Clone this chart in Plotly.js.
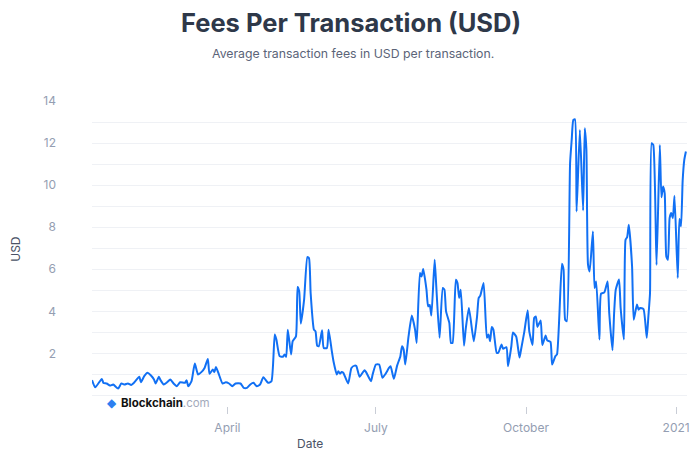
<!DOCTYPE html>
<html>
<head>
<meta charset="utf-8">
<script src="https://cdn.plot.ly/plotly-3.0.1.min.js"></script>
<style>html,body{margin:0;padding:0;background:#fff;}#chart{width:700px;height:456px;}</style>
</head>
<body>
<div id="chart"></div>
<script>
const dates = [
"2020-01-09","2020-01-11","2020-01-15","2020-01-16","2020-01-18","2020-01-20","2020-01-22","2020-01-25","2020-01-27","2020-01-29","2020-01-31",
"2020-02-02","2020-02-04","2020-02-07","2020-02-08","2020-02-10","2020-02-12","2020-02-14","2020-02-16","2020-02-17","2020-02-19","2020-02-20","2020-02-22","2020-02-24","2020-02-26","2020-02-28",
"2020-03-01","2020-03-03","2020-03-06","2020-03-07","2020-03-08","2020-03-10","2020-03-12","2020-03-14","2020-03-16","2020-03-18","2020-03-20","2020-03-21","2020-03-23","2020-03-24","2020-03-25","2020-03-27","2020-03-29","2020-03-31",
"2020-04-02","2020-04-04","2020-04-06","2020-04-09","2020-04-11","2020-04-13","2020-04-15","2020-04-17","2020-04-19","2020-04-21","2020-04-23","2020-04-25","2020-04-26","2020-04-28","2020-04-30",
"2020-05-01","2020-05-03","2020-05-05","2020-05-06","2020-05-07","2020-05-08","2020-05-10","2020-05-11","2020-05-13","2020-05-14","2020-05-15","2020-05-16","2020-05-18","2020-05-20","2020-05-21","2020-05-22","2020-05-24","2020-05-25","2020-05-26","2020-05-27","2020-05-29","2020-05-30",
"2020-06-01","2020-06-02","2020-06-04","2020-06-05","2020-06-07","2020-06-08","2020-06-09","2020-06-10","2020-06-11","2020-06-14","2020-06-16","2020-06-18","2020-06-19","2020-06-21","2020-06-24","2020-06-25","2020-06-28","2020-06-29",
"2020-07-01","2020-07-03","2020-07-05","2020-07-07","2020-07-09","2020-07-10","2020-07-12","2020-07-14","2020-07-16","2020-07-17","2020-07-18","2020-07-19","2020-07-21","2020-07-23","2020-07-25","2020-07-26","2020-07-28","2020-07-29","2020-07-30",
"2020-08-01","2020-08-02","2020-08-03","2020-08-04","2020-08-06","2020-08-07","2020-08-09","2020-08-11","2020-08-12","2020-08-13","2020-08-15","2020-08-16","2020-08-17","2020-08-19","2020-08-20","2020-08-21","2020-08-22","2020-08-24","2020-08-25","2020-08-27","2020-08-30",
"2020-09-01","2020-09-02","2020-09-03","2020-09-05","2020-09-07","2020-09-08","2020-09-09","2020-09-10","2020-09-11","2020-09-13","2020-09-14","2020-09-16","2020-09-17","2020-09-19","2020-09-20","2020-09-22","2020-09-23","2020-09-25","2020-09-27","2020-09-28","2020-09-30",
"2020-10-02","2020-10-03","2020-10-05","2020-10-06","2020-10-07","2020-10-08","2020-10-10","2020-10-11","2020-10-13","2020-10-14","2020-10-16","2020-10-17","2020-10-19","2020-10-20","2020-10-23","2020-10-24","2020-10-25","2020-10-26","2020-10-28","2020-10-29","2020-10-30","2020-10-31",
"2020-11-01","2020-11-03","2020-11-05","2020-11-06","2020-11-07","2020-11-08","2020-11-09","2020-11-11","2020-11-12","2020-11-13","2020-11-15","2020-11-16","2020-11-18","2020-11-20","2020-11-21","2020-11-23","2020-11-24","2020-11-25","2020-11-27","2020-11-28","2020-11-30",
"2020-12-01","2020-12-02","2020-12-03","2020-12-05","2020-12-06","2020-12-08","2020-12-09","2020-12-10","2020-12-12","2020-12-14","2020-12-15","2020-12-16","2020-12-17","2020-12-18","2020-12-20","2020-12-22","2020-12-23","2020-12-24","2020-12-25","2020-12-26","2020-12-27","2020-12-28","2020-12-29","2020-12-30","2020-12-31",
"2021-01-02","2021-01-03","2021-01-04","2021-01-05","2021-01-06","2021-01-07"
];
const feesUSD = [
0.73,0.39,0.79,0.60,0.57,0.47,0.52,0.33,0.57,0.52,0.57,
0.50,0.63,0.89,0.63,0.92,1.08,0.96,0.76,0.57,0.89,0.73,0.52,0.63,0.76,0.57,
0.44,0.63,0.60,0.73,0.44,0.68,1.52,1.00,1.11,1.31,1.74,1.03,1.23,1.11,1.36,0.95,0.57,0.63,
0.57,0.44,0.57,0.57,0.36,0.36,0.52,0.60,0.44,0.52,0.87,0.68,0.60,0.68,2.90,
2.66,1.87,1.84,1.95,1.84,3.13,1.95,2.58,2.81,5.16,4.95,3.42,4.56,6.58,6.53,4.87,3.13,3.05,2.37,2.34,3.10,2.26,
2.26,3.13,2.10,1.63,1.00,1.15,1.04,1.12,1.08,0.57,1.31,1.42,1.40,0.89,1.20,1.11,0.68,1.00,
1.47,1.47,0.84,1.04,1.31,1.39,0.79,1.42,1.87,2.34,2.18,1.47,2.81,3.80,3.13,2.50,5.82,5.66,6.01,
5.03,4.24,4.30,3.80,6.45,5.19,2.74,5.11,5.03,4.00,3.45,2.50,2.50,5.50,5.35,4.64,5.03,2.37,3.13,4.16,2.58,
3.76,4.64,4.75,5.35,2.74,2.90,2.58,3.26,3.13,2.03,2.03,2.42,2.22,2.30,1.39,2.34,3.00,2.80,1.80,2.20,3.05,
4.05,3.05,2.40,3.69,3.76,3.26,3.57,2.40,2.85,2.62,2.55,1.47,1.87,1.95,6.26,5.98,3.60,3.53,11.04,12.15,13.10,13.13,
8.75,12.62,8.80,12.70,11.70,6.22,5.90,7.80,5.11,5.42,2.66,4.84,4.90,5.42,3.92,2.15,3.92,5.03,5.51,4.16,2.66,
7.40,7.53,8.12,6.14,3.60,4.32,4.08,4.16,4.11,2.74,3.76,4.87,11.99,11.91,6.20,11.91,9.42,9.93,9.61,6.61,6.45,8.43,8.67,8.43,9.49,
5.59,8.39,8.04,10.20,11.20,11.60
];
const xTickVals = ["2020-04-01","2020-07-01","2020-10-01","2021-01-01"];
const xTickText = ["April","July","October","2021"];
const yTickVals = [2,4,6,8,10,12,14];
const yTickText = ["2","4","6","8","10","12","14"];

const gridColor = "#eff1f5";
const trace = {
  x: dates, y: feesUSD, type: "scatter", mode: "lines",
  line: {color: "#1170f4", width: 2, shape: "spline", smoothing: 0.5},
  hoverinfo: "x+y"
};
const layout = {
  width: 700, height: 456,
  margin: {l: 92, r: 13, t: 101, b: 49.5, pad: 0},
  paper_bgcolor: "#ffffff", plot_bgcolor: "#ffffff",
  font: {family: "Inter, 'Open Sans', sans-serif", size: 12, color: "#949eb2"},
  showlegend: false,
  xaxis: {
    type: "date",
    range: ["2020-01-09", "2021-01-07 16:00"],
    tickmode: "array", tickvals: xTickVals, ticktext: xTickText,
    showgrid: false, zeroline: false, showline: false,
    ticks: "outside", ticklen: 7, tickcolor: "#c9cdd6", tickwidth: 1,
    tickfont: {family: "Inter, sans-serif", size: 12, color: "#949eb2"},
    ticklabelstandoff: 4
  },
  yaxis: {
    range: [-0.5, 14],
    tickmode: "array", tickvals: yTickVals, ticktext: yTickText,
    showgrid: true, gridcolor: gridColor, gridwidth: 1,
    zeroline: true, zerolinecolor: gridColor, zerolinewidth: 1,
    showline: false, ticks: "",
    ticklabelstandoff: 35,
    tickfont: {family: "Inter, sans-serif", size: 12, color: "#949eb2"},
    minor: {tickmode: "linear", tick0: 0, dtick: 1, showgrid: true, gridcolor: gridColor, gridwidth: 1, ticks: ""}
  },
  annotations: [
    {text: "<b>Fees Per Transaction (USD)</b>", xref: "paper", yref: "paper",
     x: (351 - 92) / 595, y: (406.5 - 22) / 305.5, xanchor: "center", yanchor: "middle",
     showarrow: false, font: {family: "Inter, sans-serif", size: 25.5, color: "#2e3849"}},
    {text: "Average transaction fees in USD per transaction.", xref: "paper", yref: "paper",
     x: (353 - 92) / 595, y: (406.5 - 53) / 305.5, xanchor: "center", yanchor: "middle",
     showarrow: false, font: {family: "Inter, sans-serif", size: 12.3, color: "#5b6478"}},
    {text: "USD", xref: "paper", yref: "paper", textangle: -90,
     x: (16 - 92) / 595, y: (406.5 - 250) / 305.5, xanchor: "center", yanchor: "middle",
     showarrow: false, font: {family: "Inter, sans-serif", size: 12, color: "#4a5366"}},
    {text: "Date", xref: "paper", yref: "paper",
     x: (310 - 92) / 595, y: (406.5 - 444) / 305.5, xanchor: "center", yanchor: "middle",
     showarrow: false, font: {family: "Inter, sans-serif", size: 12, color: "#4a5366"}},
    {text: "◆", xref: "paper", yref: "paper",
     x: (112 - 92) / 595, y: (406.5 - 403) / 305.5, xanchor: "center", yanchor: "middle",
     showarrow: false, font: {family: "DejaVu Sans, sans-serif", size: 12, color: "#2d7ff0"}},
    {text: "<b>Blockchain</b><span style=\"color:#a3aabb\">.com</span>", xref: "paper", yref: "paper",
     x: (119 - 92) / 595, y: (406.5 - 403) / 305.5, xanchor: "left", yanchor: "middle",
     showarrow: false, font: {family: "Inter, sans-serif", size: 11.5, color: "#111111"}}
  ]
};
Plotly.newPlot("chart", [trace], layout, {displayModeBar: false, staticPlot: true});
</script>
</body>
</html>
